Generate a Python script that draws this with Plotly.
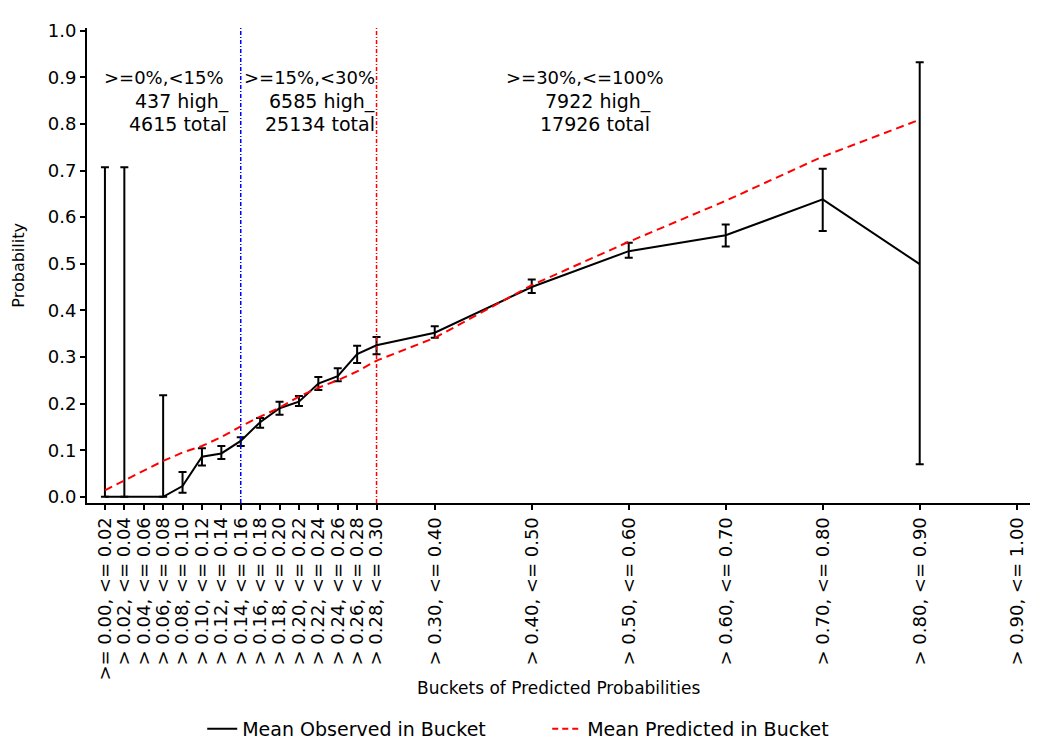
import plotly.graph_objects as go

# ---------------- data ----------------
bucket_mid = [0.01, 0.03, 0.05, 0.07, 0.09, 0.11, 0.13, 0.15, 0.17, 0.19, 0.21,
              0.23, 0.25, 0.27, 0.29, 0.35, 0.45, 0.55, 0.65, 0.75, 0.85, 0.95]
bucket_labels = [">= 0.00, <= 0.02", "> 0.02, <= 0.04", "> 0.04, <= 0.06",
                 "> 0.06, <= 0.08", "> 0.08, <= 0.10", "> 0.10, <= 0.12",
                 "> 0.12, <= 0.14", "> 0.14, <= 0.16", "> 0.16, <= 0.18",
                 "> 0.18, <= 0.20", "> 0.20, <= 0.22", "> 0.22, <= 0.24",
                 "> 0.24, <= 0.26", "> 0.26, <= 0.28", "> 0.28, <= 0.30",
                 "> 0.30, <= 0.40", "> 0.40, <= 0.50", "> 0.50, <= 0.60",
                 "> 0.60, <= 0.70", "> 0.70, <= 0.80", "> 0.80, <= 0.90",
                 "> 0.90, <= 1.00"]
observed = [0.0, 0.0, None, 0.0, 0.023, 0.086, 0.093, 0.120, 0.160, 0.190, 0.204,
            0.243, 0.259, 0.306, 0.325, 0.352, 0.450, 0.527, 0.561, 0.638, 0.499, None]
obs_upper = [0.707, 0.707, None, 0.218, 0.053, 0.104, 0.109, 0.128, 0.169, 0.204, 0.216,
             0.257, 0.276, 0.324, 0.343, 0.366, 0.466, 0.545, 0.584, 0.704, 0.932, None]
obs_lower = [0.0, 0.0, None, 0.0, 0.0085, 0.067, 0.081, 0.109, 0.148, 0.176, 0.195,
             0.229, 0.248, 0.287, 0.306, 0.341, 0.437, 0.513, 0.537, 0.570, 0.070, None]
predicted = [0.014, 0.035, None, 0.077, 0.095, 0.109, 0.128, 0.151, 0.172, 0.191, 0.215,
             0.234, 0.250, 0.269, 0.292, 0.341, 0.454, 0.547, 0.635, 0.730, 0.809, None]

cutoffs = [0.15, 0.29]
cutoff_colors = ["#0000ff", "#ff0000"]

group_titles = [">=0%,<15%", ">=15%,<30%", ">=30%,<=100%"]
group_high = ["437 high_", "6585 high_", "7922 high_"]
group_total = ["4615 total", "25134 total", "17926 total"]
title_x = [0.0708, 0.2213, 0.5049]
high_x = [0.0899, 0.2342, 0.5188]
total_x = [0.0853, 0.2317, 0.5152]
y_ticks = [0.0, 0.1, 0.2, 0.3, 0.4, 0.5, 0.6, 0.7, 0.8, 0.9, 1.0]

FONT = "DejaVu Sans"

err_plus = [None if (u is None or m is None) else u - m for u, m in zip(obs_upper, observed)]
err_minus = [None if (l is None or m is None) else m - l for l, m in zip(obs_lower, observed)]

fig = go.Figure()
fig.add_trace(go.Scatter(
    x=bucket_mid, y=observed, mode="lines", connectgaps=True,
    line=dict(color="black", width=2), showlegend=False,
    error_y=dict(type="data", symmetric=False, array=err_plus, arrayminus=err_minus,
                 color="black", thickness=2, width=4),
))
fig.add_trace(go.Scatter(
    x=bucket_mid, y=predicted, mode="lines", connectgaps=True,
    line=dict(color="#ff0000", width=2, dash="8px,5px"), showlegend=False,
))
# legend entries
fig.add_trace(go.Scatter(x=[None], y=[None], mode="lines", name="Mean Observed in Bucket",
                         line=dict(color="black", width=2)))
fig.add_trace(go.Scatter(x=[None], y=[None], mode="lines", name="Mean Predicted in Bucket",
                         line=dict(color="#ff0000", width=2, dash="6px,4px")))

for c, col in zip(cutoffs, cutoff_colors):
    fig.add_shape(type="line", xref="x", yref="paper", x0=c, x1=c, y0=0, y1=1,
                  line=dict(color=col, width=1.5, dash="4px,2px,1px,2px"))

annotations = []
for t, h, tot, tx, hx, ttx in zip(group_titles, group_high, group_total, title_x, high_x, total_x):
    annotations.append(dict(x=tx, y=0.90, xref="x", yref="y", text=t, showarrow=False,
                            xanchor="center", yanchor="middle", font=dict(size=18, family=FONT, color="black")))
    annotations.append(dict(x=hx, y=0.848, xref="x", yref="y", text=h, showarrow=False,
                            xanchor="center", yanchor="middle", font=dict(size=19, family=FONT, color="black")))
    annotations.append(dict(x=ttx, y=0.799, xref="x", yref="y", text=tot, showarrow=False,
                            xanchor="center", yanchor="middle", font=dict(size=19, family=FONT, color="black")))
annotations.append(dict(x=0.5, y=-0.39, xref="paper", yref="paper",
                        text="Buckets of Predicted Probabilities", showarrow=False,
                        xanchor="center", yanchor="middle", font=dict(size=17, family=FONT, color="black")))
annotations.append(dict(x=-0.073, y=0.5, xref="paper", yref="paper", text="Probability",
                        textangle=-90, showarrow=False, xanchor="center", yanchor="middle",
                        font=dict(size=16, family=FONT, color="black")))

fig.update_layout(
    width=1045, height=753,
    margin=dict(l=79, r=23, t=12, b=258),
    plot_bgcolor="white", paper_bgcolor="white",
    font=dict(family=FONT, color="black", size=19),
    annotations=annotations,
    legend=dict(orientation="h", xref="container", yref="container", x=0.516, y=0.0425,
                xanchor="center", yanchor="middle", font=dict(size=19, family=FONT),
                entrywidth=300, entrywidthmode="pixels", bgcolor="rgba(0,0,0,0)"),
    xaxis=dict(range=[-0.0085, 0.9637], tickmode="array", tickvals=bucket_mid,
               ticktext=bucket_labels, tickangle=-90, showline=True, linecolor="black",
               linewidth=2, ticks="outside", ticklen=5, tickwidth=2, tickcolor="black",
               showgrid=False, zeroline=False, tickfont=dict(size=18, family=FONT)),
    yaxis=dict(range=[-0.0133, 1.0057], tickmode="array", tickvals=y_ticks,
               tickformat=".1f", showline=True, linecolor="black", linewidth=2,
               ticks="outside", ticklen=5, tickwidth=2, tickcolor="black",
               showgrid=False, zeroline=False, tickfont=dict(size=18, family=FONT)),
)

fig.write_html("out.html")
